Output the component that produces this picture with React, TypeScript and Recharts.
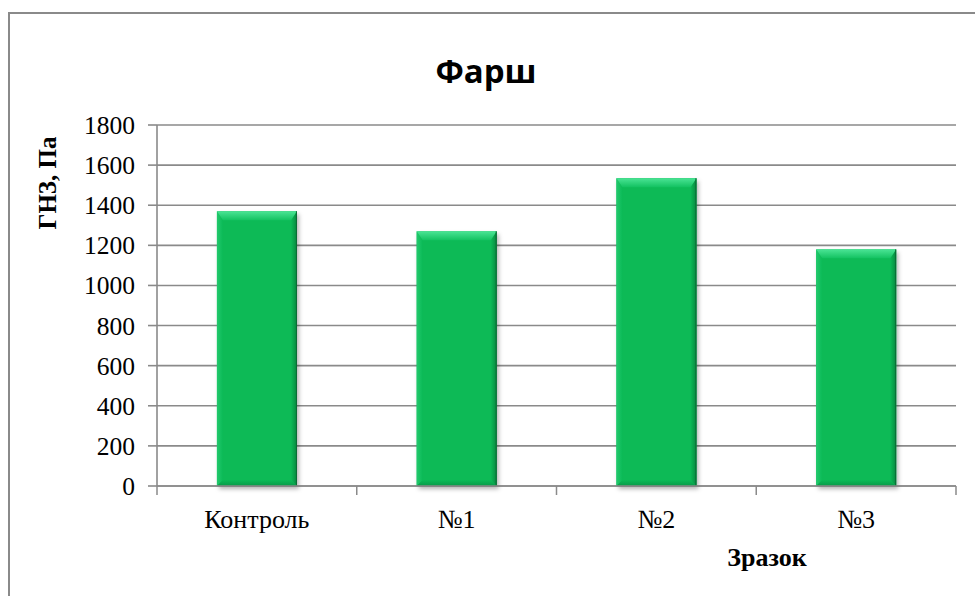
import React from 'react';
import { BarChart, Bar, XAxis, YAxis, CartesianGrid, Label } from 'recharts';

const categories = ['Контроль', '№1', '№2', '№3'];
const values = [1370, 1270, 1535, 1180];
const yTicks = [0, 200, 400, 600, 800, 1000, 1200, 1400, 1600, 1800];

const data = categories.map((name, i) => ({ name, value: values[i] }));

const GRID = '#8a8a8a';
const SERIF = '"Liberation Serif", "Times New Roman", serif';

const BevelBar = (props: any) => {
  const { x, y, width: w, height: h } = props;
  if (!h || h <= 0) return null;
  const t = 9; // top bevel depth
  const s = 6; // side bevel depth
  return (
    <g>
      <rect x={x} y={y} width={w} height={h} fill="#0bba57" filter="url(#barShadow)" />
      <polygon
        points={`${x},${y} ${x + s},${y + t} ${x + s},${y + h - s} ${x},${y + h}`}
        fill="url(#bevelLeft)"
      />
      <polygon
        points={`${x + w},${y} ${x + w},${y + h} ${x + w - s},${y + h - s} ${x + w - s},${y + t}`}
        fill="url(#bevelRight)"
      />
      <polygon
        points={`${x},${y + h} ${x + w},${y + h} ${x + w - s},${y + h - s} ${x + s},${y + h - s}`}
        fill="url(#bevelBottom)"
      />
      <polygon
        points={`${x},${y} ${x + w},${y} ${x + w - s},${y + t} ${x + s},${y + t}`}
        fill="url(#bevelTop)"
      />
      <line x1={x + w - 0.5} y1={y} x2={x + w - 0.5} y2={y + h} stroke="#0a6a34" strokeWidth={1} />
    </g>
  );
};

const XTick = (props: any) => {
  const { x, y, payload, index } = props;
  const off = payload.offset || 100;
  const last = index === categories.length - 1;
  return (
    <g>
      <line x1={x - off} y1={y} x2={x - off} y2={y + 9} stroke={GRID} strokeWidth={1.5} />
      {last && <line x1={x + off} y1={y} x2={x + off} y2={y + 9} stroke={GRID} strokeWidth={1.5} />}
      <text x={x} y={y + 42} textAnchor="middle" fontFamily={SERIF} fontSize={26} fill="#000">
        {payload.value}
      </text>
    </g>
  );
};

export default function App() {
  return (
    <div style={{ position: 'fixed', left: 0, top: 0, width: 975, height: 596, overflow: 'hidden', background: '#fff' }}>
      <div
        style={{
          position: 'absolute',
          left: 8,
          top: 12,
          width: 1000,
          height: 620,
          border: `2px solid ${GRID}`,
        }}
      />
      <div style={{ position: 'absolute', left: 0, top: 0 }}>
        <BarChart
          width={975}
          height={596}
          data={data}
          margin={{ top: 125, right: 19, bottom: 70, left: 77 }}
          barCategoryGap="30%"
        >
          <defs>
            <linearGradient id="bevelTop" x1="0" y1="0" x2="0" y2="1">
              <stop offset="0%" stopColor="#4be495" />
              <stop offset="100%" stopColor="#13c261" />
            </linearGradient>
            <linearGradient id="bevelLeft" x1="0" y1="0" x2="1" y2="0">
              <stop offset="0%" stopColor="#22c96c" />
              <stop offset="100%" stopColor="#0bba57" />
            </linearGradient>
            <linearGradient id="bevelRight" x1="0" y1="0" x2="1" y2="0">
              <stop offset="0%" stopColor="#0bba57" />
              <stop offset="100%" stopColor="#08873f" />
            </linearGradient>
            <linearGradient id="bevelBottom" x1="0" y1="0" x2="0" y2="1">
              <stop offset="0%" stopColor="#0bba57" />
              <stop offset="100%" stopColor="#089a48" />
            </linearGradient>
            <filter id="barShadow" x="-10%" y="-10%" width="130%" height="130%">
              <feDropShadow dx="2" dy="3" stdDeviation="2" floodColor="#000" floodOpacity="0.3" />
            </filter>
          </defs>
          <CartesianGrid vertical={false} stroke={GRID} strokeWidth={1.6} />
          <XAxis
            dataKey="name"
            axisLine={{ stroke: GRID, strokeWidth: 1.6 }}
            tickLine={false}
            tickSize={0}
            tickMargin={0}
            height={40}
            interval={0}
            tick={<XTick />}
          >
            <Label
              content={() => (
                <text x={767} y={566} textAnchor="middle" fontFamily={SERIF} fontWeight="bold" fontSize={26} fill="#000">
                  Зразок
                </text>
              )}
            />
          </XAxis>
          <YAxis
            domain={[0, 1800]}
            ticks={yTicks}
            interval={0}
            width={80}
            axisLine={{ stroke: GRID, strokeWidth: 1.6 }}
            tickLine={{ stroke: GRID, strokeWidth: 1.6 }}
            tickSize={9}
            tickMargin={13}
            tick={{ fontFamily: SERIF, fontSize: 25.5, fill: '#000' }}
          >
            <Label
              content={() => (
                <text
                  x={47}
                  y={183}
                  transform="rotate(-90 47 183)"
                  textAnchor="middle"
                  dominantBaseline="central"
                  fontFamily={SERIF}
                  fontWeight="bold"
                  fontSize={25}
                  fill="#000"
                >
                  ГНЗ, Па
                </text>
              )}
            />
          </YAxis>
          <Bar dataKey="value" shape={<BevelBar />} isAnimationActive={false} />
          <text x={486} y={83} textAnchor="middle" fontFamily='"Open Sans", sans-serif' fontWeight="bold" fontSize={33} fill="#000">
            Фарш
          </text>
        </BarChart>
      </div>
    </div>
  );
}
